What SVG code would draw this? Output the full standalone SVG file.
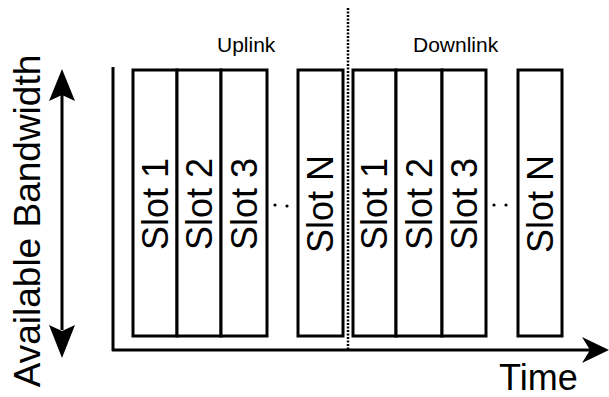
<svg xmlns="http://www.w3.org/2000/svg" width="609" height="397" viewBox="0 0 609 397">
  <style>
    .slot { fill: #ffffff; stroke: #000000; stroke-width: 3; }
    .axis { fill: none; stroke: #000000; stroke-width: 3; }
    .head { fill: #000000; stroke: none; }
    .lbl { font-family: "Liberation Sans", Arial, sans-serif; fill: #000000; }
    .slotlbl { font-size: 36px; text-anchor: middle; }
    .dot { fill: #000000; }
  </style>
  <rect width="609" height="397" fill="#ffffff"/>

  <!-- axes and separators -->
  <g id="connectors">
    <!-- time axis -->
    <line class="axis" x1="113" y1="67" x2="113" y2="351"/>
    <line class="axis" x1="112" y1="350" x2="592" y2="350"/>
    <path class="head" d="M609,350 L582,337 L590,350 L582,363 Z"/>
    <!-- bandwidth double arrow -->
    <line class="axis" x1="62" y1="95" x2="62" y2="330"/>
    <path class="head" d="M62,69 L75,101 L62,95 L49,101 Z"/>
    <path class="head" d="M62,358 L75,325 L62,331 L49,325 Z"/>
    <!-- uplink / downlink boundary -->
    <line x1="348" y1="8" x2="348" y2="349" stroke="#000000" stroke-width="2.5" stroke-dasharray="2 1.5"/>
  </g>

  <!-- axis labels -->
  <g id="bandwidth-label">
    <text class="lbl" font-size="37" text-anchor="middle" transform="translate(40,221) rotate(-90)">Available Bandwidth</text>
  </g>
  <g id="time-label">
    <text class="lbl" font-size="36" x="499" y="390">Time</text>
  </g>
  <g id="uplink-label">
    <text class="lbl" font-size="21" x="217" y="52">Uplink</text>
  </g>
  <g id="downlink-label">
    <text class="lbl" font-size="21" x="413" y="52">Downlink</text>
  </g>

  <!-- uplink slots -->
  <g id="up-slot-1">
    <rect class="slot" x="133" y="70" width="44" height="266"/>
    <text class="lbl slotlbl" transform="translate(168,204) rotate(-90)">Slot 1</text>
  </g>
  <g id="up-slot-2">
    <rect class="slot" x="177" y="70" width="44" height="266"/>
    <text class="lbl slotlbl" transform="translate(212,204) rotate(-90)">Slot 2</text>
  </g>
  <g id="up-slot-3">
    <rect class="slot" x="221" y="70" width="46" height="266"/>
    <text class="lbl slotlbl" transform="translate(257,204) rotate(-90)">Slot 3</text>
  </g>
  <g id="up-ellipsis">
    <circle class="dot" cx="275" cy="205" r="1.6"/>
    <circle class="dot" cx="287" cy="206" r="1.6"/>
  </g>
  <g id="up-slot-n">
    <rect class="slot" x="298" y="70" width="45" height="266"/>
    <text class="lbl slotlbl" transform="translate(333,204) rotate(-90)">Slot N</text>
  </g>

  <!-- downlink slots -->
  <g id="down-slot-1">
    <rect class="slot" x="353" y="70" width="43" height="266"/>
    <text class="lbl slotlbl" transform="translate(387,204) rotate(-90)">Slot 1</text>
  </g>
  <g id="down-slot-2">
    <rect class="slot" x="396" y="70" width="46" height="266"/>
    <text class="lbl slotlbl" transform="translate(432,204) rotate(-90)">Slot 2</text>
  </g>
  <g id="down-slot-3">
    <rect class="slot" x="442" y="70" width="44" height="266"/>
    <text class="lbl slotlbl" transform="translate(477,204) rotate(-90)">Slot 3</text>
  </g>
  <g id="down-ellipsis">
    <circle class="dot" cx="494" cy="205" r="1.6"/>
    <circle class="dot" cx="506" cy="205" r="1.6"/>
  </g>
  <g id="down-slot-n">
    <rect class="slot" x="518" y="70" width="44" height="266"/>
    <text class="lbl slotlbl" transform="translate(553,204) rotate(-90)">Slot N</text>
  </g>
</svg>
